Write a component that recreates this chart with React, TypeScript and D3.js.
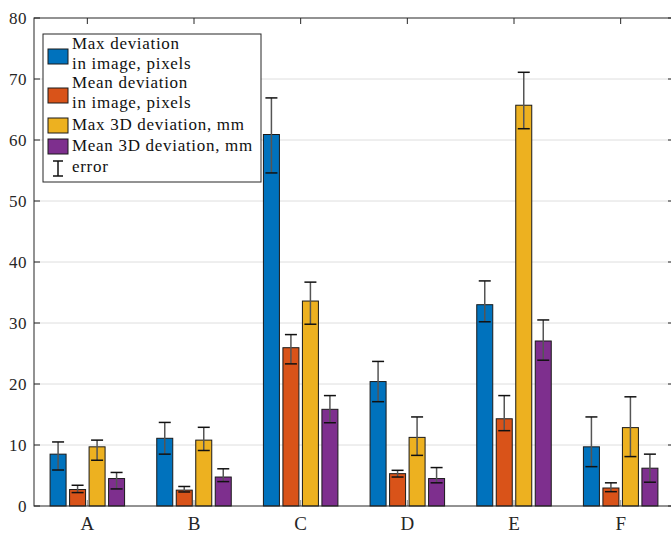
import * as d3 from 'd3';

const categories = ['A', 'B', 'C', 'D', 'E', 'F'];
const seriesNames = [
  'Max deviation in image, pixels',
  'Mean deviation in image, pixels',
  'Max 3D deviation, mm',
  'Mean 3D deviation, mm',
];
const colors = ['#0072BD', '#D95319', '#EDB120', '#7E2F8E'];

// value per category for each series
const maxPx = [8.5, 11.1, 60.9, 20.4, 33.0, 9.7];
const meanPx = [2.7, 2.6, 25.95, 5.3, 14.3, 2.95];
const max3d = [9.7, 10.8, 33.6, 11.25, 65.7, 12.85];
const mean3d = [4.5, 4.75, 15.85, 4.5, 27.05, 6.2];

// error bar ends (upper, lower)
const maxPxHi = [10.5, 13.7, 66.9, 23.7, 36.9, 14.6];
const maxPxLo = [5.9, 8.5, 54.6, 17.1, 30.2, 6.45];
const meanPxHi = [3.4, 3.2, 28.1, 5.85, 18.1, 3.8];
const meanPxLo = [2.2, 2.3, 23.3, 4.75, 12.35, 2.35];
const max3dHi = [10.8, 12.9, 36.7, 14.6, 71.1, 17.9];
const max3dLo = [7.5, 9.1, 29.8, 8.3, 61.85, 8.1];
const mean3dHi = [5.5, 6.1, 18.1, 6.3, 30.5, 8.5];
const mean3dLo = [2.8, 4.0, 13.65, 3.8, 23.9, 3.9];

const yTicks = [0, 10, 20, 30, 40, 50, 60, 70, 80];

const series = [
  { values: maxPx, hi: maxPxHi, lo: maxPxLo },
  { values: meanPx, hi: meanPxHi, lo: meanPxLo },
  { values: max3d, hi: max3dHi, lo: max3dLo },
  { values: mean3d, hi: mean3dHi, lo: mean3dLo },
];

const W = 671;
const H = 534;
const left = 34;
const right = 674;
const top = 18;
const bottom = 506;
const font = "'Liberation Serif', 'DejaVu Serif', serif";

export default function App() {
  const x = d3.scaleLinear().domain([0.5, 6.5]).range([left, right]);
  const y = d3.scaleLinear().domain([0, 80]).range([bottom, top]);
  const offsets = d3.scaleLinear().domain([0, 3]).range([-29.25, 29.25]);
  const bw = 16;
  const cap = 6;

  const legendRows = [
    { lines: ['Max deviation', 'in image, pixels'], y: 49 },
    { lines: ['Mean deviation', 'in image, pixels'], y: 88 },
    { lines: ['Max 3D deviation, mm'], y: 130 },
    { lines: ['Mean 3D deviation, mm'], y: 151 },
  ];

  return (
    <div style={{ position: 'fixed', left: 0, top: 0, fontFamily: font }}>
      <svg width={W} height={H} style={{ display: 'block', background: '#fff', fontFamily: font }}>
        <title>{seriesNames.join(', ')}</title>
        {/* grid */}
        {yTicks.slice(1, -1).map((t) => (
          <line key={t} x1={left} x2={right} y1={y(t)} y2={y(t)} stroke="#dedede" strokeWidth={1} />
        ))}
        {/* bars */}
        {series.map((s, si) =>
          s.values.map((v, ci) => {
            const cx = x(ci + 1) + offsets(si);
            return (
              <rect
                key={`${si}-${ci}`}
                x={cx - bw / 2}
                y={y(v)}
                width={bw}
                height={y(0) - y(v)}
                fill={colors[si]}
                stroke="#1a1a1a"
                strokeWidth={1}
              />
            );
          })
        )}
        {/* bottom ticks */}
        {categories.map((c, i) => (
          <line key={c} x1={x(i + 1)} x2={x(i + 1)} y1={bottom} y2={bottom - 6} stroke="#999" strokeWidth={1} />
        ))}
        {/* error bars */}
        {series.map((s, si) =>
          s.values.map((_, ci) => {
            const cx = x(ci + 1) + offsets(si);
            return (
              <g key={`e${si}-${ci}`}>
                <line x1={cx} x2={cx} y1={y(s.hi[ci])} y2={y(s.lo[ci])} stroke="#555" strokeWidth={1.5} />
                <line x1={cx - cap} x2={cx + cap} y1={y(s.hi[ci])} y2={y(s.hi[ci])} stroke="#111" strokeWidth={1.5} />
                <line x1={cx - cap} x2={cx + cap} y1={y(s.lo[ci])} y2={y(s.lo[ci])} stroke="#111" strokeWidth={1.5} />
              </g>
            );
          })
        )}
        {/* axes box */}
        <rect x={left} y={top} width={right - left} height={bottom - top} fill="none" stroke="#262626" strokeWidth={1} />
        {yTicks.map((t) => (
          <g key={t}>
            <line x1={left} x2={left + 6} y1={y(t)} y2={y(t)} stroke="#262626" />
            <line x1={right} x2={right - 6} y1={y(t)} y2={y(t)} stroke="#262626" />
            <text x={27} y={y(t)} dy="0.34em" textAnchor="end" fontSize={17} letterSpacing={0.5} fill="#262626">
              {t}
            </text>
          </g>
        ))}
        {categories.map((c, i) => (
          <g key={c}>
            <line x1={x(i + 1)} x2={x(i + 1)} y1={top} y2={top + 6} stroke="#262626" />
            <text x={x(i + 1)} y={530} textAnchor="middle" fontSize={19} fill="#262626">
              {c}
            </text>
          </g>
        ))}
        {/* legend */}
        <rect x={43} y={34} width={218} height={148} fill="#fff" stroke="#262626" strokeWidth={1} />
        {legendRows.map((r, i) => {
          const sy = r.lines.length === 2 ? r.y : r.y - 12;
          return (
            <g key={i}>
              <rect x={48} y={sy} width={20} height={15} fill={colors[i]} stroke="#1a1a1a" />
              {r.lines.map((l, li) => (
                <text key={li} x={72} y={r.y + li * 19.5} fontSize={17} letterSpacing={0.7} fill="#111">
                  {l}
                </text>
              ))}
            </g>
          );
        })}
        <g>
          <line x1={58} x2={58} y1={161} y2={176} stroke="#111" strokeWidth={1.5} />
          <line x1={53} x2={63} y1={161} y2={161} stroke="#111" strokeWidth={1.5} />
          <line x1={53} x2={63} y1={176} y2={176} stroke="#111" strokeWidth={1.5} />
          <text x={72} y={172} fontSize={17} letterSpacing={0.7} fill="#111">
            error
          </text>
        </g>
      </svg>
    </div>
  );
}
